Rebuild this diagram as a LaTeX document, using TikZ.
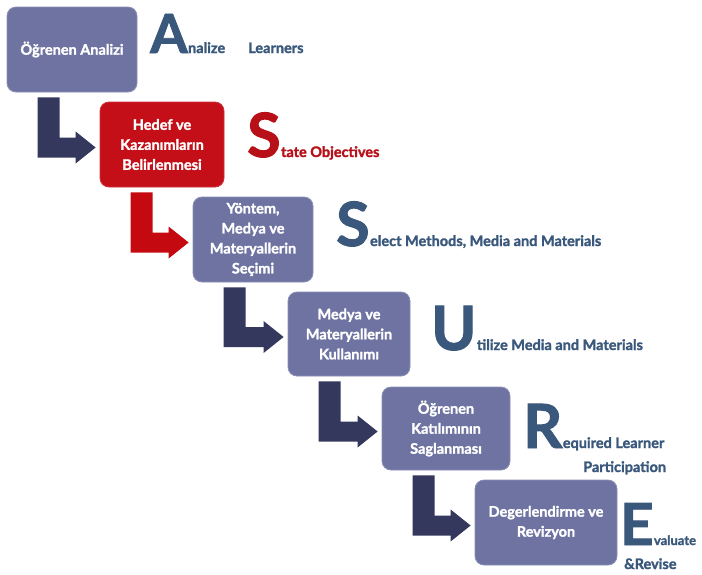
\documentclass[tikz,border=0pt]{standalone}
\usepackage{fontspec}
\setmainfont{Lato}[BoldFeatures={FakeBold=1.6}]
\usetikzlibrary{calc}
\definecolor{boxblue}{RGB}{110,115,162}
\definecolor{boxred}{RGB}{196,14,24}
\definecolor{arrdark}{RGB}{52,56,92}
\definecolor{arrred}{RGB}{196,10,16}
\definecolor{txtblue}{RGB}{58,88,124}
\definecolor{txtred}{RGB}{184,16,24}
\tikzset{
  stepbox/.style={rounded corners=9pt, fill=boxblue, draw=boxblue!80!white, line width=0.8pt,
    text=white, font=\bfseries\fontsize{14.5}{20}\selectfont, align=center, inner sep=2pt},
  redbox/.style={stepbox, fill=boxred, draw=boxred!85!white},
  bigletter/.style={font=\bfseries\fontsize{61}{61}\selectfont, inner sep=0pt, anchor=base west},
  small/.style={font=\bfseries\fontsize{14.5}{16}\selectfont, inner sep=0pt, anchor=base west},
}
\newcommand{\Larrow}[3]{%
  \fill[#3] let \p1=(#1.south west), \p2=(#2.west) in
    (\x1+31pt,\y1-5pt) -- (\x1+53pt,\y1-5pt) -- (\x1+53pt,\y2+7pt) -- (\x2-24pt,\y2+7pt)
    -- (\x2-24pt,\y2+13pt) -- (\x2-4pt,\y2-3pt) -- (\x2-24pt,\y2-19pt) -- (\x2-24pt,\y2-13pt)
    -- (\x1+31pt,\y2-13pt) -- cycle;}
\begin{document}
\begin{tikzpicture}[x=1pt,y=-1pt]
\useasboundingbox (0,0) rectangle (702,574);
\fill[white] (0,0) rectangle (702,574);
% boxes
\node[stepbox, minimum width=130pt, minimum height=85pt] (b1) at (72,49.5) {Öğrenen Analizi};
\node[redbox, minimum width=124pt, minimum height=85pt] (b2) at (162,144.5) {Hedef ve\\Kazanımların\\Belirlenmesi};
\node[stepbox, minimum width=120pt, minimum height=85pt] (b3) at (253,239.5) {Yöntem,\\Medya ve\\Materyallerin\\Seçimi};
\node[stepbox, minimum width=122pt, minimum height=84pt] (b4) at (349,334) {Medya ve\\Materyallerin\\Kullanımı};
\node[stepbox, minimum width=128pt, minimum height=83pt] (b5) at (446,428.5) {Öğrenen\\Katılımının\\Saglanması};
\node[stepbox, minimum width=142pt, minimum height=85pt] (b6) at (546,522.5) {Degerlendirme ve\\Revizyon};
% arrows
\Larrow{b1}{b2}{arrdark}
\Larrow{b2}{b3}{arrred}
\Larrow{b3}{b4}{arrdark}
\Larrow{b4}{b5}{arrdark}
\Larrow{b5}{b6}{arrdark}
% labels
\node[bigletter, text=txtblue, font=\bfseries\fontsize{54}{54}\selectfont] (lA) at (150,53) {A};
\node[small, text=txtblue] (tA) at (lA.base east) {nalize};
\node[small, text=txtblue] (tA2) at (248,53) {Learners};
\node[bigletter, text=txtred] (lS1) at (247,157) {S};
\node[small, text=txtred] (tS1) at (lS1.base east) {tate Objectives};
\node[bigletter, text=txtblue] (lS2) at (336,246) {S};
\node[small, text=txtblue] (tS2) at (lS2.base east) {elect Methods, Media and Materials};
\node[bigletter, text=txtblue] (lU) at (431,350) {U};
\node[small, text=txtblue] (tU) at (lU.base east) {tilize Media and Materials};
\node[bigletter, text=txtblue] (lR) at (523,448) {R};
\node[small, text=txtblue] (tR) at (lR.base east) {equired Learner};
\node[small, text=txtblue] (tR2) at (583,472) {Participation};
\node[bigletter, text=txtblue, font=\bfseries\fontsize{58}{58}\selectfont] (lE) at (620,545) {E};
\node[small, text=txtblue, font=\bfseries\fontsize{13}{15}\selectfont] (tE) at (lE.base east) {valuate};
\node[small, text=txtblue] (tE2) at (624,569) {\&Revise};
\end{tikzpicture}
\end{document}
